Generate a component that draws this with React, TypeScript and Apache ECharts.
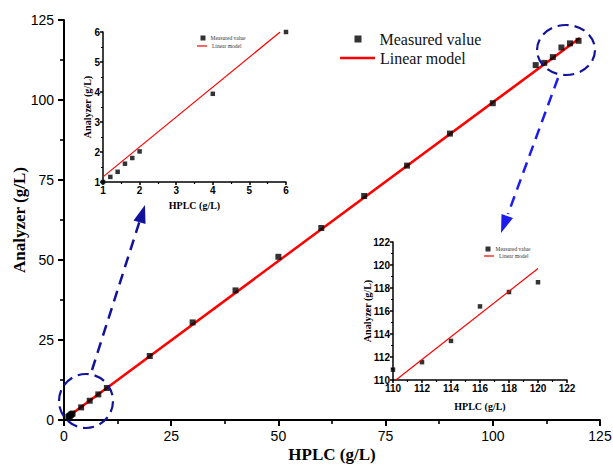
import React, { useEffect, useRef } from "react";
import * as echarts from "echarts";

// Main chart data
const mainX = [1, 1.2, 1.4, 1.6, 1.8, 2, 4, 6, 8, 10, 20, 30, 40, 50, 60, 70, 80, 90, 100, 110, 112, 114, 116, 118, 120];
const mainY = [1, 1.18, 1.35, 1.62, 1.82, 2.03, 3.95, 6.02, 8, 10, 20, 30.5, 40.5, 51, 60, 70, 79.5, 89.5, 99, 110.9, 111.6, 113.4, 116.4, 117.7, 118.5];
const mainLineX = [1, 120.3];
const mainLineY = [1.1, 119.4];

// Inset 1 (low range)
const inset1X = [1, 1.2, 1.4, 1.6, 1.8, 2, 4, 6];
const inset1Y = [1, 1.17, 1.34, 1.61, 1.8, 2.02, 3.94, 6.0];
const inset1LineX = [1, 5.84];
const inset1LineY = [1.17, 6.0];

// Inset 2 (high range)
const inset2X = [110, 112, 114, 116, 118, 120];
const inset2Y = [110.9, 111.55, 113.4, 116.4, 117.65, 118.5];
const inset2LineX = [110.2, 120];
const inset2LineY = [110, 119.7];

const seriesNames = ["Measured value", "Linear model"];

const zip = (xs: number[], ys: number[]) => xs.map((x, i) => [x, ys[i]]);

const SERIF = "Liberation Serif";
const SANS = "Liberation Sans";

function axis(opts: {
  grid: number;
  min: number;
  max: number;
  interval: number;
  name: string;
  nameGap: number;
  nameSize: number;
  labelSize: number;
  labelBold: boolean;
  labelMargin: number;
  lineWidth: number;
  tickLen: number;
  minorLen: number;
}) {
  return {
    type: "value",
    gridIndex: opts.grid,
    min: opts.min,
    max: opts.max,
    interval: opts.interval,
    name: opts.name,
    nameLocation: "middle",
    nameGap: opts.nameGap,
    nameMoveOverlap: false,
    nameTextStyle: {
      fontFamily: SERIF,
      fontWeight: "bold",
      fontSize: opts.nameSize,
      color: "#000",
    },
    axisLine: { show: true, onZero: false, lineStyle: { color: "#000", width: opts.lineWidth } },
    axisTick: { show: true, inside: false, length: opts.tickLen, lineStyle: { color: "#000", width: opts.lineWidth } },
    minorTick: { show: true, splitNumber: 2, length: opts.minorLen, lineStyle: { color: "#000", width: opts.lineWidth * 0.8 } },
    splitLine: { show: false },
    minorSplitLine: { show: false },
    axisLabel: {
      fontFamily: SANS,
      fontSize: opts.labelSize,
      fontWeight: opts.labelBold ? "bold" : "normal",
      color: "#000",
      margin: opts.labelMargin,
    },
  };
}

const squareIcon = "path://M0,0 L10,0 L10,10 L0,10 Z";

function legendItem(
  name: string,
  icon: string,
  color: string,
  left: number,
  top: number,
  itemWidth: number,
  itemHeight: number,
  fontSize: number,
  textPadLeft: number,
  fontColor: string
) {
  return {
    show: true,
    left,
    top,
    orient: "vertical",
    itemWidth,
    itemHeight,
    selectedMode: false,
    padding: 0,
    data: [{ name, icon }],
    itemStyle: { color, borderWidth: 0 },
    textStyle: { fontFamily: SERIF, fontSize, color: fontColor, padding: [0, 0, 0, textPadLeft] },
  };
}

export default function App() {
  const ref = useRef<HTMLDivElement>(null);

  useEffect(() => {
    if (!ref.current) return;
    const chart = echarts.init(ref.current, undefined, { renderer: "svg" });

    const navy = "#12129c";
    const blue = "#1c1cf0";
    const lineIconMain = "path://M0,0 L100,0 L100,7 L0,7 Z";
    const lineIconSmall = "path://M0,0 L100,0 L100,12 L0,12 Z";

    const option: any = {
      animation: false,
      backgroundColor: "#fff",
      grid: [
        { left: 64, right: 13, top: 20, bottom: 46, outerBoundsMode: "none", containLabel: false },
        { left: 103, right: 327, top: 32, bottom: 284, outerBoundsMode: "none", containLabel: false },
        { left: 393, right: 46, top: 242, bottom: 86, outerBoundsMode: "none", containLabel: false },
      ],
      xAxis: [
        axis({ grid: 0, min: 0, max: 125, interval: 25, name: "HPLC (g/L)", nameGap: 26, nameSize: 17, labelSize: 14, labelBold: false, labelMargin: 9, lineWidth: 2, tickLen: 6, minorLen: 4 }),
        axis({ grid: 1, min: 1, max: 6, interval: 1, name: "HPLC (g/L)", nameGap: 18, nameSize: 10, labelSize: 10, labelBold: true, labelMargin: 3, lineWidth: 1.5, tickLen: 3, minorLen: 2 }),
        axis({ grid: 2, min: 110, max: 122, interval: 2, name: "HPLC (g/L)", nameGap: 21, nameSize: 10, labelSize: 10, labelBold: true, labelMargin: 3, lineWidth: 1.5, tickLen: 3, minorLen: 2 }),
      ],
      yAxis: [
        axis({ grid: 0, min: 0, max: 125, interval: 25, name: "Analyzer (g/L)", nameGap: 36, nameSize: 17, labelSize: 14, labelBold: false, labelMargin: 10, lineWidth: 2, tickLen: 6, minorLen: 4 }),
        axis({ grid: 1, min: 1, max: 6, interval: 1, name: "Analyzer (g/L)", nameGap: 11, nameSize: 10, labelSize: 10, labelBold: true, labelMargin: 3, lineWidth: 1.5, tickLen: 3, minorLen: 2 }),
        axis({ grid: 2, min: 110, max: 122, interval: 2, name: "Analyzer (g/L)", nameGap: 21, nameSize: 10, labelSize: 10, labelBold: true, labelMargin: 3, lineWidth: 1.5, tickLen: 3, minorLen: 2 }),
      ],
      legend: [
        legendItem(seriesNames[0], squareIcon, "#000", 354.5, 31, 7, 7, 16, 13, "#111"),
        legendItem(seriesNames[1], lineIconMain, "#ff0000", 340, 50, 35, 7, 16, 0, "#111"),
        legendItem(seriesNames[0], squareIcon, "#000", 200.5, 35, 5, 5, 5.5, 0, "#333"),
        legendItem(seriesNames[1], lineIconSmall, "#ff0000", 197, 43, 10, 5, 5.5, 0, "#333"),
        legendItem(seriesNames[0], squareIcon, "#000", 485.5, 246, 5, 5, 5.5, 0, "#333"),
        legendItem(seriesNames[1], lineIconSmall, "#ff0000", 484, 253, 10, 5, 5.5, 0, "#333"),
      ],
      series: [
        {
          name: seriesNames[1],
          type: "line",
          xAxisIndex: 0,
          yAxisIndex: 0,
          data: zip(mainLineX, mainLineY),
          symbol: "none",
          lineStyle: { color: "#ff0000", width: 2.5 },
          itemStyle: { color: "#ff0000" },
          z: 2,
        },
        {
          name: seriesNames[0],
          type: "scatter",
          xAxisIndex: 0,
          yAxisIndex: 0,
          data: zip(mainX, mainY),
          symbol: "rect",
          symbolSize: 6,
          itemStyle: { color: "#000" },
          z: 3,
        },
        {
          name: seriesNames[1],
          type: "line",
          xAxisIndex: 1,
          yAxisIndex: 1,
          data: zip(inset1LineX, inset1LineY),
          symbol: "none",
          lineStyle: { color: "#ff0000", width: 1.2 },
          itemStyle: { color: "#ff0000" },
        },
        {
          name: seriesNames[0],
          type: "scatter",
          xAxisIndex: 1,
          yAxisIndex: 1,
          data: zip(inset1X, inset1Y),
          symbol: "rect",
          symbolSize: 4.5,
          itemStyle: { color: "#000" },
        },
        {
          name: seriesNames[1],
          type: "line",
          xAxisIndex: 2,
          yAxisIndex: 2,
          data: zip(inset2LineX, inset2LineY),
          symbol: "none",
          lineStyle: { color: "#ff0000", width: 1.2 },
          itemStyle: { color: "#ff0000" },
        },
        {
          name: seriesNames[0],
          type: "scatter",
          xAxisIndex: 2,
          yAxisIndex: 2,
          data: zip(inset2X, inset2Y),
          symbol: "rect",
          symbolSize: 4.5,
          itemStyle: { color: "#000" },
        },
      ],
      graphic: [
        {
          type: "ellipse",
          shape: { cx: 86, cy: 401, rx: 27, ry: 27 },
          style: { fill: "none", stroke: navy, lineWidth: 2.2, lineDash: [11, 6] },
          z: 10,
        },
        {
          type: "ellipse",
          shape: { cx: 566, cy: 50, rx: 29, ry: 25 },
          style: { fill: "none", stroke: navy, lineWidth: 2.2, lineDash: [11, 6] },
          z: 10,
        },
        {
          type: "line",
          shape: { x1: 92, y1: 370, x2: 140, y2: 220 },
          style: { stroke: navy, lineWidth: 2.5, lineDash: [11, 7] },
          z: 10,
        },
        {
          type: "polygon",
          shape: { points: [[145, 205], [145.5, 224], [133.5, 220.5]] },
          style: { fill: navy },
          z: 10,
        },
        {
          type: "line",
          shape: { x1: 558, y1: 78, x2: 508, y2: 214 },
          style: { stroke: blue, lineWidth: 2.5, lineDash: [11, 7] },
          z: 10,
        },
        {
          type: "polygon",
          shape: { points: [[501, 233], [513, 218], [501.5, 214]] },
          style: { fill: blue },
          z: 10,
        },
      ],
    };

    chart.setOption(option);
    return () => chart.dispose();
  }, []);

  return (
    <div
      ref={ref}
      style={{ position: "fixed", left: 0, top: 0, width: 613, height: 466, background: "#fff" }}
    />
  );
}
